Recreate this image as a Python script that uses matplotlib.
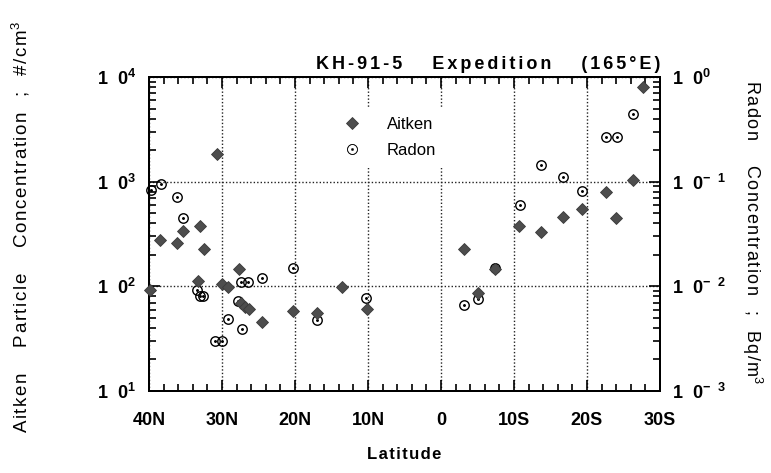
import matplotlib
matplotlib.use("Agg")
import matplotlib.pyplot as plt
from matplotlib.ticker import FixedLocator, LogLocator, NullFormatter

matplotlib.rcParams['font.family'] = ['Liberation Sans', 'DejaVu Sans']
matplotlib.rcParams['mathtext.fontset'] = 'custom'
matplotlib.rcParams['mathtext.rm'] = 'Liberation Sans'
matplotlib.rcParams['mathtext.bf'] = 'Liberation Sans:bold'

# latitude: north positive, south negative
aitken_lat = [39.9, 38.5, 36.2, 35.3, 33.0, 32.5, 33.3, 30.7, 30.0, 29.2,
              27.7, 27.4, 26.8, 26.3, 24.5, 20.3, 17.0, 13.6, 10.2,
              -3.2, -5.1, -7.4, -10.7, -13.7, -16.7, -19.3, -22.6, -24.0,
              -26.3, -27.7]
aitken_conc = [93, 277, 259, 338, 378, 227, 112, 1820, 105, 98,
               146, 69, 64, 61, 46, 58, 55, 98, 61,
               227, 86, 146, 378, 330, 460, 550, 800, 450,
               1045, 8000]  # #/cm3

radon_lat = [39.7, 38.4, 36.2, 35.3, 33.4, 33.0, 32.6, 31.0, 30.0, 29.2,
             27.8, 27.3, 27.4, 26.4, 24.5, 20.3, 17.0, 10.3,
             -3.2, -5.1, -7.4, -10.8, -13.7, -16.7, -19.3, -22.6, -24.1,
             -26.3]
radon_conc = [0.084, 0.096, 0.072, 0.045, 0.0092, 0.0080, 0.0080, 0.0030,
              0.0030, 0.0049, 0.0072, 0.0039, 0.0109, 0.0109, 0.0119,
              0.0149, 0.0048, 0.0077, 0.0066, 0.0075, 0.0149, 0.060,
              0.143, 0.112, 0.082, 0.27, 0.27, 0.44]  # Bq/m3

lat_ticks = [40, 30, 20, 10, 0, -10, -20, -30]
lat_labels = ['40N', '30N', '20N', '10N', '0', '10S', '20S', '30S']
aitken_ticks = [1e1, 1e2, 1e3, 1e4]
aitken_labels = [r'$\mathbf{1\;\ 0^{1}}$', r'$\mathbf{1\;\ 0^{2}}$',
                 r'$\mathbf{1\;\ 0^{3}}$', r'$\mathbf{1\;\ 0^{4}}$']
radon_ticks = [1e-3, 1e-2, 1e-1, 1e0]
radon_labels = [r'$\mathbf{1\;\ 0^{-\;\ 3}}$', r'$\mathbf{1\;\ 0^{-\;\ 2}}$',
                r'$\mathbf{1\;\ 0^{-\;\ 1}}$', r'$\mathbf{1\;\ 0^{0}}$']


def spaced(s, gap='\u200a'):
    # widen the letter spacing the way the old plotting package did
    return gap.join(s)


fig = plt.figure(figsize=(7.71, 4.73), dpi=100)
ax = fig.add_axes([0.1933, 0.1734, 0.6627, 0.6638])
ax2 = ax.twinx()

ax.set_yscale('log')
ax.set_xlim(40, -30)
ax.set_ylim(1e1, 1e4)
ax2.set_yscale('log')
ax2.set_ylim(1e-3, 1e0)

diamond = dict(linestyle='none', marker='D', markersize=6.6,
               markerfacecolor='#4d4d4d', markeredgecolor='#3a3a3a',
               markeredgewidth=0.6)

# radon: open circle with a dot in the middle
ax2.plot(radon_lat, radon_conc, linestyle='none', marker='o', markersize=6.8,
         markerfacecolor='none', markeredgecolor='black', markeredgewidth=1.0,
         zorder=2, clip_on=False)
ax2.plot(radon_lat, radon_conc, linestyle='none', marker='.', markersize=2.2,
         color='black', zorder=2, clip_on=False)
# aitken on the radon scale (1e4 #/cm3 <-> 1 Bq/m3), drawn over the circles
ax2.plot(aitken_lat, [c / 1e4 for c in aitken_conc], zorder=3, clip_on=False,
         **diamond)

ax.xaxis.set_major_locator(FixedLocator(lat_ticks))
ax.xaxis.set_minor_locator(FixedLocator(list(range(-30, 41, 2))))
ax.set_xticklabels(lat_labels, fontsize=13, fontweight='bold')
ax.yaxis.set_major_locator(FixedLocator(aitken_ticks))
ax.yaxis.set_minor_locator(LogLocator(base=10, subs=range(2, 10)))
ax.yaxis.set_minor_formatter(NullFormatter())
ax.set_yticklabels(aitken_labels, fontsize=13)
ax2.yaxis.set_major_locator(FixedLocator(radon_ticks))
ax2.yaxis.set_minor_locator(LogLocator(base=10, subs=range(2, 10)))
ax2.yaxis.set_minor_formatter(NullFormatter())
ax2.set_yticklabels(radon_labels, fontsize=13)

ax.tick_params(which='both', direction='in', top=True, right=False, width=1.2)
ax.tick_params(which='major', length=8)
ax.tick_params(which='minor', length=5)
ax.tick_params(axis='x', pad=15)
ax.tick_params(axis='y', pad=9)
ax2.tick_params(which='both', direction='in', width=1.2)
ax2.tick_params(which='major', length=8, pad=9)
ax2.tick_params(which='minor', length=5)

for a in (ax, ax2):
    for s in a.spines.values():
        s.set_linewidth(1.4)

ax.grid(True, which='major', linestyle=(0, (1, 1.5)), color='#222222',
        linewidth=1.0)
ax.set_axisbelow(True)
ax.set_zorder(ax2.get_zorder() - 1)
ax2.patch.set_visible(False)

h1, = ax2.plot([], [], **diamond)
h2, = ax2.plot([], [], linestyle='none', marker='$\\odot$', markersize=7.5,
               color='black', markeredgewidth=0.3)
leg = ax2.legend([h1, h2], ['Aitken', 'Radon'], loc='upper left',
                 bbox_to_anchor=(0.337, 0.93), frameon=True, fontsize=12,
                 handletextpad=1.35, labelspacing=0.65, borderpad=0.6,
                 handlelength=1.5)
leg.get_frame().set_facecolor('white')
leg.get_frame().set_edgecolor('none')
leg.get_frame().set_alpha(1.0)

ax.set_title(spaced('KH-91-5', '\u200a\u200a') + '      '
             + spaced('Expedition', '\u200a\u200a') + '      '
             + spaced('(165°E)', '\u200a\u200a'),
             loc='right', fontsize=13, fontweight='bold', pad=6)
ax.set_xlabel(spaced('Latitude'), fontsize=12, fontweight='bold',
              labelpad=13)
fig.text(0.027, 0.52,
         spaced('Aitken') + '     ' + spaced('Particle') + '     '
         + spaced('Concentration') + '   ;   ' + spaced('#/cm') + '$^{3}$',
         rotation=90, fontsize=13.5, ha='center', va='center')
fig.text(0.976, 0.51,
         spaced('Radon') + '     ' + spaced('Concentration') + '   ;   '
         + spaced('Bq/m') + '$^{3}$',
         rotation=270, fontsize=13, ha='center', va='center')

fig.savefig('out.png', dpi=100)
